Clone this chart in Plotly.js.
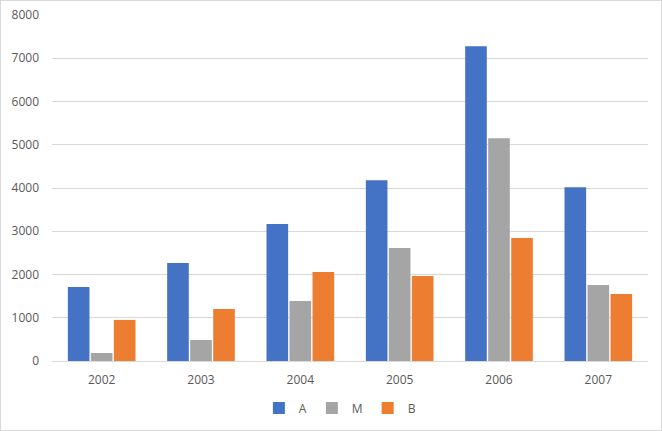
<!DOCTYPE html>
<html>
<head>
<meta charset="utf-8">
<script src="https://cdn.plot.ly/plotly-3.0.1.min.js"></script>
<style>
html,body{margin:0;padding:0;background:#fff;}
#wrap{position:relative;width:662px;height:431px;}
#chart{width:662px;height:431px;}
#frame{position:absolute;left:0;top:0;width:660px;height:429px;border:1px solid #d9d9d9;pointer-events:none;}
</style>
</head>
<body>
<div id="wrap"><div id="chart"></div><div id="frame"></div></div>
<script>
const years = ['2002','2003','2004','2005','2006','2007'];
const seriesA = [1710, 2265, 3165, 4180, 7280, 4020];
const seriesM = [185, 485, 1385, 2610, 5150, 1755];
const seriesB = [950, 1200, 2060, 1965, 2845, 1550];
const yTicks = [0,1000,2000,3000,4000,5000,6000,7000,8000];

const font = {family: 'Open Sans, Liberation Sans, sans-serif', size: 12, color: '#595959'};

const traces = [
  {type:'bar', name:'A', x:years, y:seriesA, marker:{color:'#4472C4'}},
  {type:'bar', name:'M', x:years, y:seriesM, marker:{color:'#A5A5A5'}},
  {type:'bar', name:'B', x:years, y:seriesB, marker:{color:'#ED7D31'}}
];

const layout = {
  width: 662, height: 431,
  margin: {l:52, r:14, t:15, b:70, autoexpand:false},
  paper_bgcolor:'#fff', plot_bgcolor:'#fff',
  font: font,
  barmode:'group', bargap:0.305, bargroupgap:0.06,
  xaxis: {type:'category', showgrid:false, zeroline:false, showline:true, linecolor:'#d9d9d9', linewidth:1, ticks:'', tickfont:font, ticklabelstandoff:8},
  yaxis: {range:[0,8000], tickvals:yTicks, ticktext:yTicks.map(String), showgrid:true, gridcolor:'#d9d9d9', gridwidth:1, zeroline:false, showline:false, ticks:'', tickfont:font, ticklabelstandoff:12},
  legend: {orientation:'h', x:0.483, xanchor:'center', y:-0.136, yanchor:'middle', font:font, itemwidth:30, traceorder:'normal'},
  showlegend:true
};

Plotly.newPlot('chart', traces, layout, {displayModeBar:false, staticPlot:true});
</script>
</body>
</html>
